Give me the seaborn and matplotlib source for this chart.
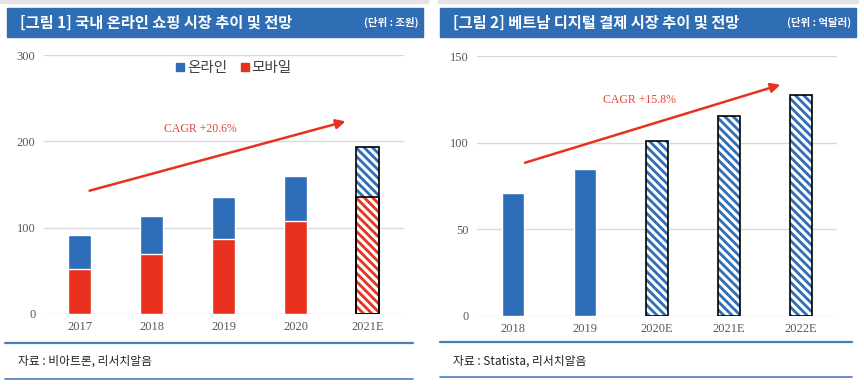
import matplotlib
matplotlib.use("Agg")
import matplotlib.pyplot as plt
import seaborn as sns
from matplotlib.patches import Rectangle
from matplotlib.lines import Line2D

# 데이터
left_years = ["2017", "2018", "2019", "2020", "2021E"]
left_mobile = [52, 69, 87, 108, 136]
left_online = [39, 44, 48, 52, 57]
left_estimate = [False, False, False, False, True]

right_years = ["2018", "2019", "2020E", "2021E", "2022E"]
right_values = [71, 85, 101, 115.5, 127.5]
right_estimate = [False, False, True, True, True]

blue = "#2E6DB8"
red = "#E8321F"
header_blue = "#2F6DB5"
line_blue = "#4A7EBB"
grid_gray = "#D9D9D9"
tick_gray = "#595959"

sns.set_theme(style="white")
plt.rcParams["font.family"] = ["Noto Sans CJK KR", "DejaVu Sans"]
plt.rcParams["hatch.linewidth"] = 2.0

fig = plt.figure(figsize=(8.64, 3.92), dpi=100)
W, H = 864, 392


def fx(px):
    return px / W


def fy(py):
    return 1 - py / H


ax1 = fig.add_axes([fx(43.7), fy(314), fx(360), (314 - 55) / H])
ax2 = fig.add_axes([fx(477), fy(315.7), fx(360), (315.7 - 56.3) / H])

totals = [m + o for m, o in zip(left_mobile, left_online)]
sns.barplot(x=left_years, y=totals, color=blue, saturation=1, width=0.315, ax=ax1)
sns.barplot(x=left_years, y=left_mobile, color=red, saturation=1, width=0.315, ax=ax1)
sns.barplot(x=right_years, y=right_values, color=blue, saturation=1, width=0.315, ax=ax2)


def hatch_bars(ax, patches, flags, color):
    for p, est in zip(patches, flags):
        if not est:
            continue
        p.set_facecolor("white")
        p.set_edgecolor(color)
        p.set_hatch("\\\\\\\\")
        p.set_linewidth(0)
        ax.add_patch(Rectangle((p.get_x(), p.get_y()), p.get_width(), p.get_height(),
                               fill=False, edgecolor="black", lw=1.2, zorder=5))


n = len(left_years)
hatch_bars(ax1, ax1.patches[:n], left_estimate, blue)
hatch_bars(ax1, ax1.patches[n:2 * n], left_estimate, red)
hatch_bars(ax2, ax2.patches[:len(right_years)], right_estimate, blue)

for ax, ymax, step in [(ax1, 300, 100), (ax2, 150, 50)]:
    ax.set_ylim(0, ymax)
    ax.set_xlim(-0.5, 4.5)
    ax.set_yticks(range(0, ymax + 1, step))
    ax.yaxis.grid(True, color=grid_gray, lw=1)
    ax.set_axisbelow(True)
    for s in ax.spines.values():
        s.set_visible(False)
    ax.tick_params(axis="both", length=0, colors=tick_gray, labelsize=9)
    ax.tick_params(axis="y", pad=6)
    ax.tick_params(axis="x", pad=5)
    for lab in ax.get_xticklabels() + ax.get_yticklabels():
        lab.set_fontfamily("Liberation Serif")
    ax.set_xlabel("")
    ax.set_ylabel("")

# CAGR 화살표
ax1.annotate("", xy=(3.73, 224), xytext=(0.1, 142),
             arrowprops=dict(arrowstyle="-|>", color=red, lw=1.8, mutation_scale=14))
ax1.text(1.67, 214, "CAGR +20.6%", color="#E0463A", fontsize=8.5,
         family="Liberation Serif", ha="center", va="center")
ax2.annotate("", xy=(3.75, 134), xytext=(0.13, 88),
             arrowprops=dict(arrowstyle="-|>", color=red, lw=1.8, mutation_scale=14))
ax2.text(1.76, 125, "CAGR +15.8%", color="#E0463A", fontsize=8.5,
         family="Liberation Serif", ha="center", va="center")

# 범례
handles = [Line2D([], [], marker="s", ls="", color=blue, markersize=5.5),
           Line2D([], [], marker="s", ls="", color=red, markersize=5.5)]
ax1.legend(handles, ["온라인", "모바일"], ncol=2, frameon=False, fontsize=10.5,
           loc="center", bbox_to_anchor=(fx(233), fy(68)), bbox_transform=fig.transFigure,
           handletextpad=0.05, columnspacing=0.8, handlelength=0.8)
for t in ax1.get_legend().get_texts():
    t.set_color("#404040")

# 헤더와 출처
panels = [
    (7, 423, 0, 428, "[그림 1] 국내 온라인 쇼핑 시장 추이 및 전망", "(단위 : 조원)",
     5, 413, 343, 379, "자료 : 비아트론, 리서치알음"),
    (440, 856, 438, 858, "[그림 2] 베트남 디지털 결제 시장 추이 및 전망", "(단위 : 억달러)",
     440, 852, 342, 377, "자료 : Statista, 리서치알음"),
]
for x0, x1, g0, g1, title, unit, l0, l1, ly0, ly1, src in panels:
    fig.patches.append(Rectangle((fx(g0), fy(3)), fx(g1 - g0), 3 / H,
                                 transform=fig.transFigure, color="#E4E4E4"))
    fig.patches.append(Rectangle((fx(x0), fy(37)), fx(x1 - x0), 29 / H,
                                 transform=fig.transFigure, color=header_blue))
    fig.text(fx(x0 + 13), fy(22.5), title, color="white", fontsize=11,
             fontweight="bold", va="center", ha="left")
    fig.text(fx(x1 - 5), fy(22.5), unit, color="white", fontsize=7.5,
             fontweight="bold", va="center", ha="right")
    fig.add_artist(Line2D([fx(l0), fx(l1)], [fy(ly0)] * 2, color=line_blue, lw=1.6))
    fig.add_artist(Line2D([fx(l0), fx(l1)], [fy(ly1)] * 2, color=line_blue, lw=1.2))
    fig.text(fx(l0 + 13), fy(361), src, color="#222222", fontsize=8.5,
             va="center", ha="left")

fig.savefig("out.png", dpi=100)
